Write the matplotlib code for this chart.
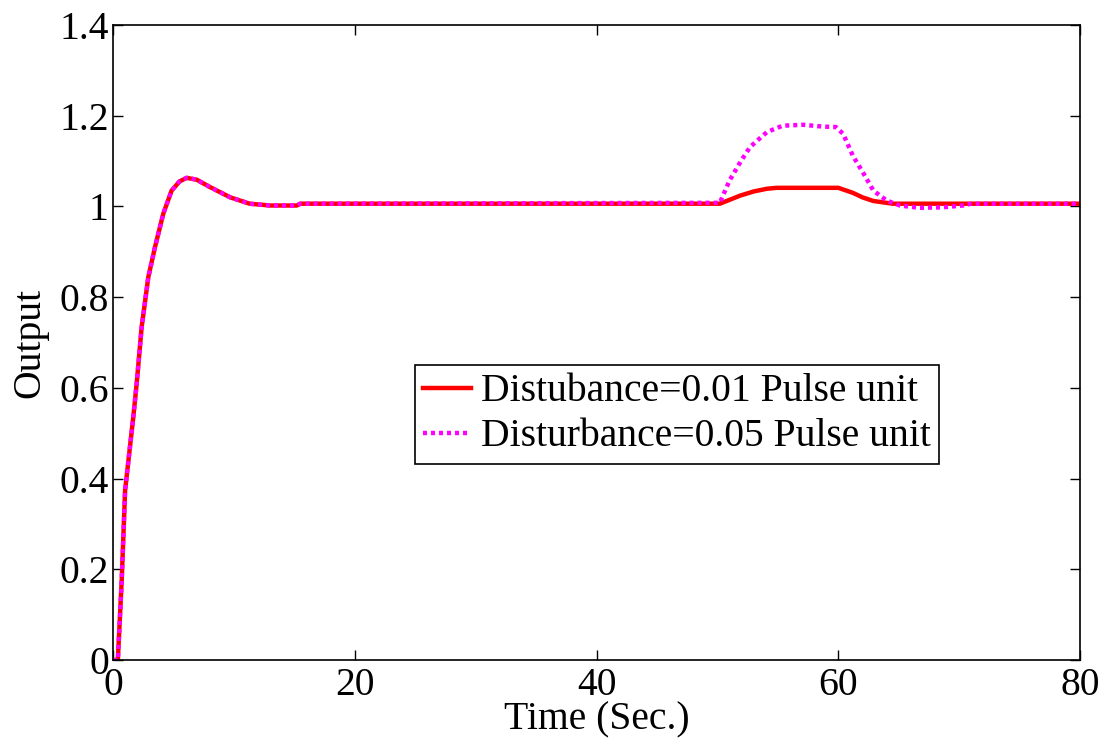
import numpy as np
import matplotlib
matplotlib.use("Agg")
import matplotlib.pyplot as plt

plt.rcParams.update({
    "font.family": "serif",
    "font.serif": ["Times New Roman", "Liberation Serif", "DejaVu Serif"],
    "font.size": 28.5,
})

# respuesta inicial (igual para ambas curvas)
t_subida = [0, 0.4, 0.72, 1.0, 1.68, 1.96, 2.37, 2.92, 3.47, 4.16, 4.85, 5.5, 6.09, 6.92,
            8.0, 9.7, 11.3, 13.0, 15.2, 15.5]
y_subida = [0, 0, 0.176, 0.374, 0.536, 0.61, 0.734, 0.844, 0.910, 0.984, 1.035, 1.055, 1.063,
            1.059, 1.043, 1.020, 1.006, 1.002, 1.002, 1.006]

# perturbacion 0.01
t_pert1 = [50.2, 51.9, 53.0, 54.1, 54.9, 60.0, 61.2, 62.0, 62.9, 64.5, 80]
y_pert1 = [1.006, 1.024, 1.033, 1.039, 1.041, 1.041, 1.030, 1.020, 1.012, 1.006, 1.006]

# perturbacion 0.05
t_pert5 = [50.2, 51.0, 51.9, 52.7, 54.1, 55.4, 57.1, 58.7, 59.8, 60.4, 61.2, 62.1, 62.9,
           64.0, 65.1, 66.7, 68.6, 70.3, 71.0, 80]
y_pert5 = [1.008, 1.057, 1.098, 1.131, 1.164, 1.178, 1.180, 1.176, 1.175, 1.160, 1.112,
           1.072, 1.035, 1.013, 1.002, 0.997, 0.998, 1.002, 1.006, 1.006]

etiquetas = ["Distubance=0.01 Pulse unit", "Disturbance=0.05 Pulse unit"]

fig = plt.figure(figsize=(11.09, 7.48), dpi=100)
ax = fig.add_axes([0.1019, 0.1176, 0.872, 0.849])

ax.plot(t_subida + t_pert1, y_subida + y_pert1, color="red", lw=3.2,
        label=etiquetas[0], solid_joinstyle="round")
ax.plot(t_subida + t_pert5, y_subida + y_pert5, color="magenta", lw=3.2,
        linestyle=(0, (0.9, 0.9)), label=etiquetas[1])

ax.set_xlim(0, 80)
ax.set_ylim(0, 1.4)
ax.set_xticks([0, 20, 40, 60, 80])
ax.set_yticks([0, 0.2, 0.4, 0.6, 0.8, 1, 1.2, 1.4])
ax.set_yticklabels(["0", "0.2", "0.4", "0.6", "0.8", "1", "1.2", "1.4"])
ax.tick_params(direction="in", top=True, right=True, length=7, width=1)
ax.tick_params(axis="y", pad=3)
ax.tick_params(axis="x", pad=5)
for s in ax.spines.values():
    s.set_linewidth(1.2)

ax.set_xlabel("Time (Sec.)", labelpad=-2)
ax.set_ylabel("Output", labelpad=8)

leg = ax.legend(loc="upper left", bbox_to_anchor=(0.312, 0.465), borderaxespad=0,
                fancybox=False, edgecolor="black", framealpha=1, handlelength=1.2,
                handletextpad=0.25, borderpad=0.22, labelspacing=0.2)
leg.get_frame().set_linewidth(1.2)

fig.savefig("out.png", dpi=100)
